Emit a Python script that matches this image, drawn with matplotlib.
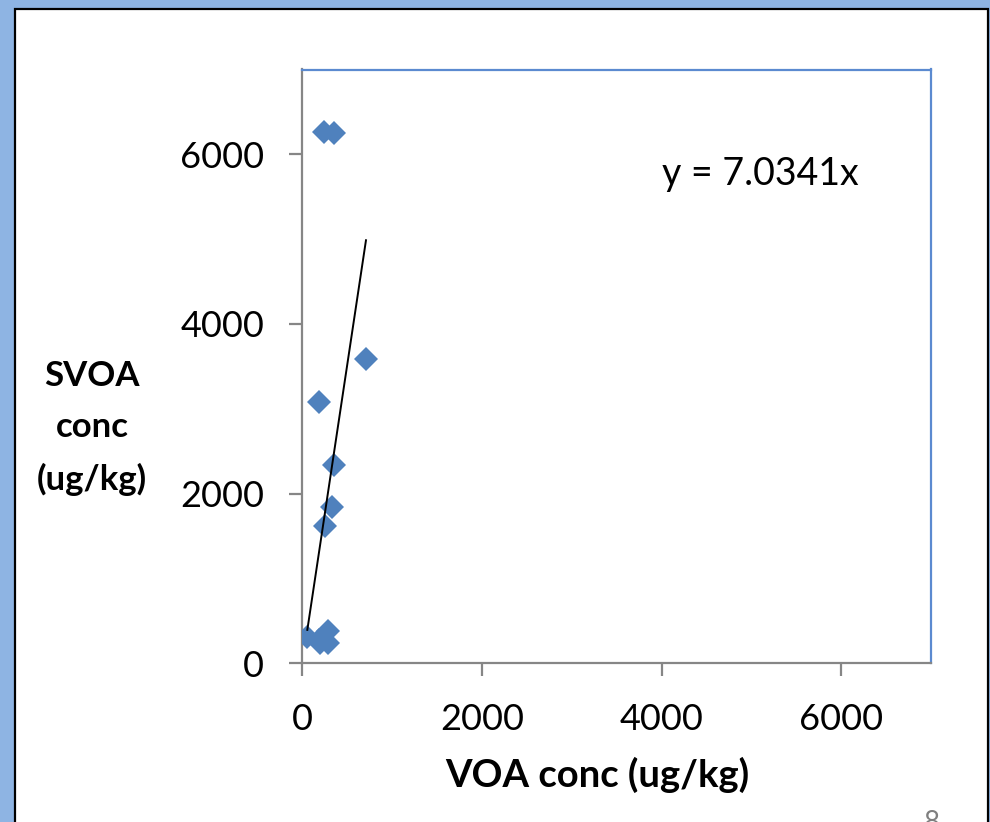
"""
SVOA vs VOA concentration scatter with a through-origin trendline.
"""

import matplotlib.pyplot as plt
from matplotlib.patches import Rectangle

# data
voa_conc = [245, 356, 709, 183, 353, 327, 256, 56, 186, 286, 286, 197]
svoa_conc = [6261, 6249, 3591, 3083, 2343, 1838, 1614, 314, 275, 385, 237, 237]
slope = 7.0341
x_ticks = [0, 2000, 4000, 6000]
y_ticks = [0, 2000, 4000, 6000]

plt.rcParams["font.family"] = ["Lato", "DejaVu Sans"]

fig = plt.figure(figsize=(9.9, 8.22), dpi=100)
fig.patch.set_facecolor("#8EB4E3")

# white slide area with a thin black edge
fig.patches.append(
    Rectangle(
        (14.5 / 990, -0.01),
        (988 - 14.5) / 990,
        (822 - 9) / 822 + 0.01,
        transform=fig.transFigure,
        facecolor="white",
        edgecolor="black",
        linewidth=1.6,
        zorder=-1,
    )
)

ax = fig.add_axes([302.3 / 990, 1 - 663.3 / 822, 628.7 / 990, 593.8 / 822])
ax.set_zorder(1)

ax.plot(
    voa_conc,
    svoa_conc,
    "D",
    color="#4F81BD",
    markersize=12,
    markeredgewidth=0,
    zorder=3,
)

# trendline over the data range, Excel style
x_line = [min(voa_conc), max(voa_conc)]
ax.plot(x_line, [slope * v for v in x_line], color="black", linewidth=1.4, zorder=4)

ax.text(
    0.572,
    0.824,
    f"y = {slope}x",
    transform=ax.transAxes,
    ha="left",
    va="center",
    fontsize=27,
)

ax.set_xlim(0, 7000)
ax.set_ylim(0, 7000)
ax.set_xticks(x_ticks)
ax.set_yticks(y_ticks)

for side in ["left", "bottom"]:
    ax.spines[side].set_color("#868686")
    ax.spines[side].set_linewidth(1.6)
for side in ["top", "right"]:
    ax.spines[side].set_color("#5B8AD0")
    ax.spines[side].set_linewidth(1.6)

ax.tick_params(
    axis="both",
    direction="out",
    length=9.5,
    width=1.6,
    color="#868686",
    labelsize=26,
)
ax.tick_params(axis="y", pad=18)
ax.tick_params(axis="x", pad=19)

ax.set_xlabel("VOA conc (ug/kg)", fontsize=27.5, fontweight="bold")
ax.xaxis.set_label_coords(0.469, -0.158)

fig.text(
    92 / 990,
    1 - 428 / 822,
    "SVOA\nconc\n(ug/kg)",
    ha="center",
    va="center",
    fontsize=25,
    fontweight="bold",
    linespacing=1.72,
)

# page number, cut by the bottom edge
fig.text(932 / 990, 1 - 810 / 822, "8", ha="center", va="top", fontsize=20, color="#7F7F7F")

fig.savefig("out.png", dpi=100)
